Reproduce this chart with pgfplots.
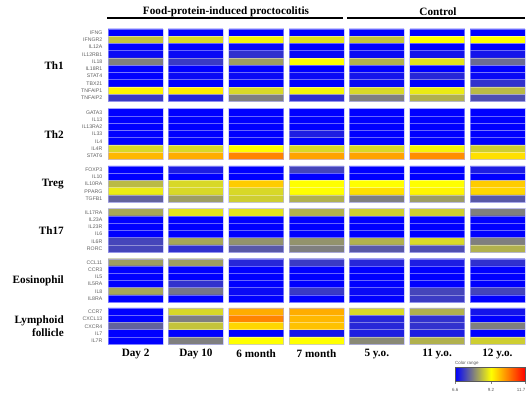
\documentclass[border=0pt]{standalone}
\usepackage{pgfplots}
\pgfplotsset{compat=1.18}
\usepackage{fontspec}
\setmainfont{Liberation Serif}
\newfontfamily\arialf{Liberation Sans}
\begin{document}
\begin{tikzpicture}[x=1pt,y=1pt]
\begin{axis}[
  at={(108.1pt,367pt)}, anchor=north west,
  scale only axis, width=416.8pt, height=315.4pt,
  xmin=-0.456, xmax=6.456, ymin=0, ymax=43.5, y dir=reverse,
  hide axis, clip mode=individual,
  colormap={heat}{rgb255(0)=(0,0,255); rgb255(26)=(255,255,0); rgb255(51)=(255,0,0)},
  point meta min=6.6, point meta max=11.7,
  colorbar horizontal,
  colorbar style={
    at={(parent axis.south west)}, anchor=north west,
    xshift=347.2pt, yshift=-14.6pt,
    scale only axis, width=70pt, height=14pt,
    xtick={6.6,9.2,11.7}, xticklabels={6.6,9.2,\makebox[0pt][r]{11.7}},
    xtick pos=left, xtick align=outside, major tick length=2pt,
    xticklabel style={font=\arialf\fontsize{4.5}{5}\selectfont, text=gray!70!black, yshift=-1pt},
    axis line style={draw=gray!70!black, line width=0.4pt},
  },
]
% Th1
\addplot[matrix plot*, mesh/cols=7, point meta=explicit] coordinates {
(0,0.5)[6.6] (1,0.5)[6.6] (2,0.5)[6.6] (3,0.5)[6.6] (4,0.5)[6.6] (5,0.5)[6.6] (6,0.5)[6.6]
(0,1.5)[8.6] (1,1.5)[8.8] (2,1.5)[9.1] (3,1.5)[8.9] (4,1.5)[8.6] (5,1.5)[9.2] (6,1.5)[9.2]
(0,2.5)[6.6] (1,2.5)[6.6] (2,2.5)[6.7] (3,2.5)[6.6] (4,2.5)[6.6] (5,2.5)[6.6] (6,2.5)[6.6]
(0,3.5)[6.7] (1,3.5)[6.7] (2,3.5)[7.1] (3,3.5)[6.7] (4,3.5)[6.7] (5,3.5)[6.8] (6,3.5)[6.8]
(0,4.5)[7.9] (1,4.5)[7.2] (2,4.5)[8.2] (3,4.5)[9.2] (4,4.5)[8.4] (5,4.5)[8.9] (6,4.5)[7.7]
(0,5.5)[6.6] (1,5.5)[6.6] (2,5.5)[6.6] (3,5.5)[6.6] (4,5.5)[6.6] (5,5.5)[6.6] (6,5.5)[6.6]
(0,6.5)[6.6] (1,6.5)[6.7] (2,6.5)[6.7] (3,6.5)[6.7] (4,6.5)[6.8] (5,6.5)[7.0] (6,6.5)[6.7]
(0,7.5)[6.6] (1,7.5)[6.6] (2,7.5)[6.6] (3,7.5)[6.6] (4,7.5)[6.7] (5,7.5)[6.6] (6,7.5)[7.1]
(0,8.5)[9.3] (1,8.5)[9.4] (2,8.5)[8.8] (3,8.5)[9.1] (4,8.5)[8.8] (5,8.5)[9.0] (6,8.5)[8.5]
(0,9.5)[7.2] (1,9.5)[7.0] (2,9.5)[7.9] (3,9.5)[7.1] (4,9.5)[7.9] (5,9.5)[8.4] (6,9.5)[7.4]
};
% Th2
\addplot[matrix plot*, mesh/cols=7, point meta=explicit] coordinates {
(0,11.5)[6.6] (1,11.5)[6.6] (2,11.5)[6.6] (3,11.5)[6.6] (4,11.5)[6.6] (5,11.5)[6.6] (6,11.5)[6.6]
(0,12.5)[6.6] (1,12.5)[6.6] (2,12.5)[6.6] (3,12.5)[6.6] (4,12.5)[6.6] (5,12.5)[6.6] (6,12.5)[6.6]
(0,13.5)[6.6] (1,13.5)[6.6] (2,13.5)[6.6] (3,13.5)[6.6] (4,13.5)[6.6] (5,13.5)[6.6] (6,13.5)[6.6]
(0,14.5)[6.6] (1,14.5)[6.6] (2,14.5)[6.6] (3,14.5)[6.9] (4,14.5)[6.6] (5,14.5)[6.6] (6,14.5)[6.6]
(0,15.5)[6.6] (1,15.5)[6.6] (2,15.5)[6.6] (3,15.5)[6.6] (4,15.5)[6.6] (5,15.5)[6.6] (6,15.5)[6.6]
(0,16.5)[8.8] (1,16.5)[8.8] (2,16.5)[9.2] (3,16.5)[8.8] (4,16.5)[8.8] (5,16.5)[9.1] (6,16.5)[8.7]
(0,17.5)[9.9] (1,17.5)[10.0] (2,17.5)[10.4] (3,17.5)[10.1] (4,17.5)[10.1] (5,17.5)[10.3] (6,17.5)[9.5]
};
% Treg
\addplot[matrix plot*, mesh/cols=7, point meta=explicit] coordinates {
(0,19.4)[6.6] (1,19.4)[6.9] (2,19.4)[6.6] (3,19.4)[7.3] (4,19.4)[6.6] (5,19.4)[6.6] (6,19.4)[6.9]
(0,20.4)[6.6] (1,20.4)[6.6] (2,20.4)[6.6] (3,20.4)[6.6] (4,20.4)[6.6] (5,20.4)[6.6] (6,20.4)[6.6]
(0,21.4)[8.5] (1,21.4)[8.8] (2,21.4)[9.7] (3,21.4)[9.2] (4,21.4)[9.2] (5,21.4)[9.2] (6,21.4)[9.7]
(0,22.4)[9.0] (1,22.4)[8.8] (2,22.4)[8.8] (3,22.4)[9.2] (4,22.4)[9.5] (5,22.4)[9.3] (6,22.4)[9.6]
(0,23.4)[7.6] (1,23.4)[8.2] (2,23.4)[8.7] (3,23.4)[8.4] (4,23.4)[7.9] (5,23.4)[8.2] (6,23.4)[7.5]
};
% Th17
\addplot[matrix plot*, mesh/cols=7, point meta=explicit] coordinates {
(0,25.3)[8.3] (1,25.3)[8.9] (2,25.3)[8.9] (3,25.3)[8.4] (4,25.3)[8.7] (5,25.3)[8.7] (6,25.3)[7.9]
(0,26.3)[6.6] (1,26.3)[6.6] (2,26.3)[6.6] (3,26.3)[6.6] (4,26.3)[6.6] (5,26.3)[6.6] (6,26.3)[6.6]
(0,27.3)[6.6] (1,27.3)[6.6] (2,27.3)[6.6] (3,27.3)[6.6] (4,27.3)[6.6] (5,27.3)[6.6] (6,27.3)[6.6]
(0,28.3)[6.6] (1,28.3)[6.6] (2,28.3)[6.6] (3,28.3)[6.6] (4,28.3)[6.6] (5,28.3)[6.6] (6,28.3)[6.6]
(0,29.3)[7.3] (1,29.3)[8.3] (2,29.3)[8.1] (3,29.3)[8.1] (4,29.3)[8.4] (5,29.3)[8.8] (6,29.3)[7.9]
(0,30.3)[7.3] (1,30.3)[7.1] (2,30.3)[7.5] (3,30.3)[7.9] (4,30.3)[7.5] (5,30.3)[7.4] (6,30.3)[8.4]
};
% Eosinophil
\addplot[matrix plot*, mesh/cols=7, point meta=explicit] coordinates {
(0,32.2)[8.2] (1,32.2)[8.2] (2,32.2)[7.0] (3,32.2)[7.2] (4,32.2)[7.0] (5,32.2)[6.9] (6,32.2)[7.1]
(0,33.2)[6.6] (1,33.2)[6.6] (2,33.2)[6.6] (3,33.2)[6.6] (4,33.2)[6.6] (5,33.2)[6.6] (6,33.2)[6.6]
(0,34.2)[6.6] (1,34.2)[6.6] (2,34.2)[6.6] (3,34.2)[6.6] (4,34.2)[6.6] (5,34.2)[6.6] (6,34.2)[6.6]
(0,35.2)[6.6] (1,35.2)[7.1] (2,35.2)[6.6] (3,35.2)[6.6] (4,35.2)[6.6] (5,35.2)[6.6] (6,35.2)[6.6]
(0,36.2)[8.3] (1,36.2)[7.8] (2,36.2)[6.7] (3,36.2)[7.2] (4,36.2)[6.7] (5,36.2)[7.3] (6,36.2)[7.3]
(0,37.2)[6.6] (1,37.2)[6.6] (2,37.2)[6.6] (3,37.2)[6.6] (4,37.2)[6.6] (5,37.2)[7.2] (6,37.2)[6.6]
};
% Lymphoid follicle
\addplot[matrix plot*, mesh/cols=7, point meta=explicit] coordinates {
(0,39.0)[6.6] (1,39.0)[8.8] (2,39.0)[10.0] (3,39.0)[10.0] (4,39.0)[8.8] (5,39.0)[8.4] (6,39.0)[6.8]
(0,40.0)[6.6] (1,40.0)[7.9] (2,40.0)[10.4] (3,40.0)[9.9] (4,40.0)[7.0] (5,40.0)[7.1] (6,40.0)[6.6]
(0,41.0)[7.6] (1,41.0)[8.6] (2,41.0)[9.6] (3,41.0)[9.8] (4,41.0)[7.0] (5,41.0)[7.1] (6,41.0)[7.9]
(0,42.0)[6.6] (1,42.0)[6.6] (2,42.0)[6.6] (3,42.0)[6.8] (4,42.0)[6.9] (5,42.0)[6.9] (6,42.0)[6.6]
(0,43.0)[6.6] (1,43.0)[7.9] (2,43.0)[9.2] (3,43.0)[9.2] (4,43.0)[8.0] (5,43.0)[8.4] (6,43.0)[8.7]
};
\end{axis}
% column gaps
\foreach \k in {0,...,5} {
  \fill[white] ({135.6+60.3*\k+27.5},{367+2}) rectangle ({135.6+60.3*\k+32.8},{367-7.25*43.5-2});
}
% row separators and block outlines
\foreach \top/\n in {0/10,11/7,18.9/5,24.8/6,31.7/6,38.5/5} {
  \pgfmathtruncatemacro\m{\n-1}
  \foreach \j in {1,...,\m} {
    \foreach \k in {0,...,6} {
      \draw[white, opacity=0.4, line width=0.8pt] ({135.6+60.3*\k-27.5},{367-7.25*(\top+\j)}) -- ({135.6+60.3*\k+27.5},{367-7.25*(\top+\j)});
    }
  }
  \foreach \k in {0,...,6} {
    \draw[blue!30!white, opacity=0.6, line width=0.6pt] ({135.6+60.3*\k-27.5},{367-7.25*\top}) rectangle ({135.6+60.3*\k+27.5},{367-7.25*(\top+\n)});
  }
}
% gene labels
\foreach \top/\names in {0/{IFNG,IFNGR2,IL12A,IL12RB1,IL18,IL18R1,STAT4,TBX21,TNFAIP1,TNFAIP2},
  11/{GATA3,IL13,IL13RA2,IL33,IL4,IL4R,STAT6},
  18.9/{FOXP3,IL10,IL10RA,PPARG,TGFB1},
  24.8/{IL17RA,IL23A,IL23R,IL6,IL6R,RORC},
  31.7/{CCL11,CCR3,IL5,IL5RA,IL8,IL8RA},
  38.5/{CCR7,CXCL13,CXCR4,IL7,IL7R}} {
  \foreach \g [count=\i from 0] in \names {
    \node[anchor=east, inner sep=0pt, font=\arialf\fontsize{5.2}{6}\selectfont, text=gray!75!black] at (102.5,{367-7.25*(\top+\i+0.5)}) {\g};
  }
}
% group labels
\begin{scope}[every node/.style={anchor=east, inner sep=0pt, font=\bfseries\fontsize{11.2}{13.5}\selectfont, align=right}]
\node at (64,{367-7.25*5}) {Th1};
\node at (64,{367-7.25*14.5}) {Th2};
\node at (64,{367-7.25*21.4}) {Treg};
\node at (64,{367-7.25*27.8}) {Th17};
\node at (64,{367-7.25*34.7}) {Eosinophil};
\node at (64,{367-7.25*41}) {Lymphoid\\follicle};
\end{scope}
% column labels
\foreach \k/\lab in {0/Day 2,1/Day 10,2/6 month,3/7 month,4/5 y.o.,5/11 y.o.,6/12 y.o.} {
  \node[inner sep=0pt, font=\bfseries\fontsize{11.2}{13}\selectfont] at ({135.6+60.3*\k},42) {\lab};
}
% header
\node[inner sep=0pt, font=\bfseries\fontsize{11.2}{13}\selectfont] at (226,384) {Food-protein-induced proctocolitis};
\node[inner sep=0pt, font=\bfseries\fontsize{11.2}{13}\selectfont] at (438,384) {Control};
\draw[line width=1.5pt] (107,378) -- (343,378);
\draw[line width=1.5pt] (347,378) -- (525,378);
% colour range label
\node[anchor=west, inner sep=0pt, font=\arialf\fontsize{4.5}{5}\selectfont, text=gray!70!black] at (455,33) {Color range};
\pgfresetboundingbox
\path[use as bounding box] (0,0) rectangle (527,396);
\end{tikzpicture}
\end{document}
